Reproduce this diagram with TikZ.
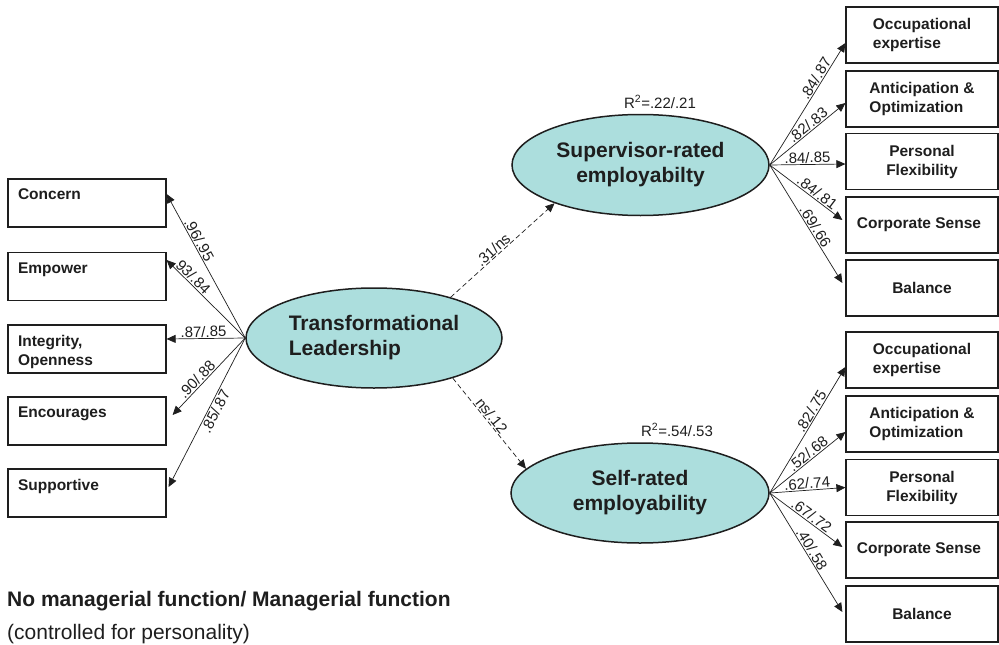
\documentclass[tikz,border=0pt]{standalone}
\usepackage{fontspec}
\setmainfont{Liberation Sans}
\usetikzlibrary{arrows.meta,shapes.geometric,calc}
\definecolor{latfill}{RGB}{172,222,221}
\definecolor{ink}{RGB}{30,30,30}
\newcommand\mylatfont{\fontsize{21}{25}\selectfont\bfseries}
\newcommand\myboxfont{\fontsize{15.5}{19}\selectfont\bfseries}
\newcommand\myedgefont{\fontsize{15}{17}\selectfont}
\tikzset{
  lat/.style={ellipse, draw=ink, line width=1.5pt, fill=latfill, font=\mylatfont, text=ink, inner sep=0pt},
  lbox/.style={rectangle, draw=ink, line width=1.2pt, inner xsep=10pt, inner ysep=10pt, font=\myboxfont, text=ink},
  rbox/.style={rectangle, draw=ink, line width=1.2pt, minimum width=152pt, minimum height=56pt, font=\myboxfont, text=ink, inner sep=0pt},
  conn/.style={draw=ink, line width=0.7pt, -{Triangle[length=9pt,width=8pt]}},
  dconn/.style={conn, dash pattern=on 5pt off 3pt},
  elab/.style={sloped, font=\myedgefont, text=ink, inner sep=1pt},
}
\begin{document}
\begin{tikzpicture}[x=1pt,y=-1pt]
\useasboundingbox (0,0) rectangle (999,645);
% latent variables
\node[lat, minimum width=256pt, minimum height=100pt, align=left] (tl) at (374,338) {Transformational\\Leadership};
\node[lat, minimum width=257pt, minimum height=101pt, align=center] (sup) at (640.5,165) {Supervisor-rated\\employabilty};
\node[lat, minimum width=258pt, minimum height=100pt, align=center] (self) at (640,493) {Self-rated\\employability};
% left boxes
\node[lbox] (b1) at (87,203) {\parbox[c][28pt][t]{138pt}{Concern}};
\node[lbox] (b2) at (87,276.5) {\parbox[c][28pt][t]{138pt}{Empower}};
\node[lbox] (b3) at (87,349) {\parbox[c][28pt][t]{138pt}{Integrity,\\Openness}};
\node[lbox] (b4) at (87,421) {\parbox[c][28pt][t]{138pt}{Encourages}};
\node[lbox] (b5) at (87,493) {\parbox[c][28pt][t]{138pt}{Supportive}};
% right top boxes
\node[rbox, align=left] (r1) at (922,35) {Occupational\\expertise};
\node[rbox, align=left] (r2) at (922,99) {Anticipation \&\\Optimization};
\node[rbox, align=center] (r3) at (922,161.5) {Personal\\Flexibility};
\node[rbox] (r4) at (922,225) {\hspace*{-6pt}Corporate Sense};
\node[rbox] (r5) at (922,288) {Balance};
% right bottom boxes
\node[rbox, align=left] (s1) at (922,360) {Occupational\\expertise};
\node[rbox, align=left] (s2) at (922,424) {Anticipation \&\\Optimization};
\node[rbox, align=center] (s3) at (922,487.5) {Personal\\Flexibility};
\node[rbox] (s4) at (922,550) {\hspace*{-6pt}Corporate Sense};
\node[rbox] (s5) at (922,614) {Balance};
% R squared
\node[font=\myedgefont, text=ink, inner sep=0pt] (rsq1) at (660,102) {R\textsuperscript{2}=.22/.21};
\node[font=\myedgefont, text=ink, inner sep=0pt] (rsq2) at (677,430) {R\textsuperscript{2}=.54/.53};
% left connectors
\draw[conn] (tl.west) -- node[elab, above, pos=0.66] {.96/.95} ([yshift=9pt]b1.east);
\draw[conn] (tl.west) -- node[elab, above, pos=0.74] {.93/.84} ([yshift=16.5pt]b2.east);
\draw[conn] (tl.west) -- node[elab, above, pos=0.53] {.87/.85} ([yshift=10pt]b3.east);
\draw[conn] (tl.west) -- node[elab, above, pos=0.6] {.90/.88} ([xshift=6pt,yshift=6pt]b4.east);
\draw[conn] (tl.west) -- node[elab, below, pos=0.47] {.85/.87} ([xshift=2pt,yshift=6pt]b5.east);
% structural paths
\draw[dconn] (tl.28) -- node[elab, above, pos=0.45] {.31/ns} (sup.204);
\draw[dconn] (tl.333) -- node[elab, above, pos=0.46] {ns/.12} (self.168);
% supervisor indicators
\draw[conn] (sup.east) -- node[elab, above, pos=0.68] {.84/.87} ([yshift=-8pt]r1.west);
\draw[conn] (sup.east) -- node[elab, above, pos=0.56] {.82/.83} ([yshift=-4pt]r2.west);
\draw[conn] (sup.east) -- node[elab, above, pos=0.5] {.84/.85} ([yshift=-2.5pt]r3.west);
\draw[conn] (sup.east) -- node[elab, above, pos=0.6] {.84/.81} ([xshift=-3pt,yshift=5pt]r4.west);
\draw[conn] (sup.east) -- node[elab, above, pos=0.55] {.69/.66} ([xshift=-3pt,yshift=5pt]r5.west);
% self indicators
\draw[conn] (self.east) -- node[elab, above, pos=0.62] {.82/.75} ([yshift=-7pt]s1.west);
\draw[conn] (self.east) -- node[elab, above, pos=0.56] {.52/.68} ([yshift=-8pt]s2.west);
\draw[conn] (self.east) -- node[elab, above, pos=0.5] {.62/.74} (s3.west);
\draw[conn] (self.east) -- node[elab, above, pos=0.52] {.67/.72} ([xshift=-3pt,yshift=3pt]s4.west);
\draw[conn] (self.east) -- node[elab, above, pos=0.5] {.40/.58} ([xshift=-3pt,yshift=2pt]s5.west);
% legend
\node[anchor=base west, inner sep=0pt, font=\fontsize{21}{25}\selectfont\bfseries, text=ink] (leg1) at (7,606) {No managerial function/ Managerial function};
\node[anchor=base west, inner sep=0pt, font=\fontsize{21}{25}\selectfont, text=ink] (leg2) at (7,639) {(controlled for personality)};
\end{tikzpicture}
\end{document}
